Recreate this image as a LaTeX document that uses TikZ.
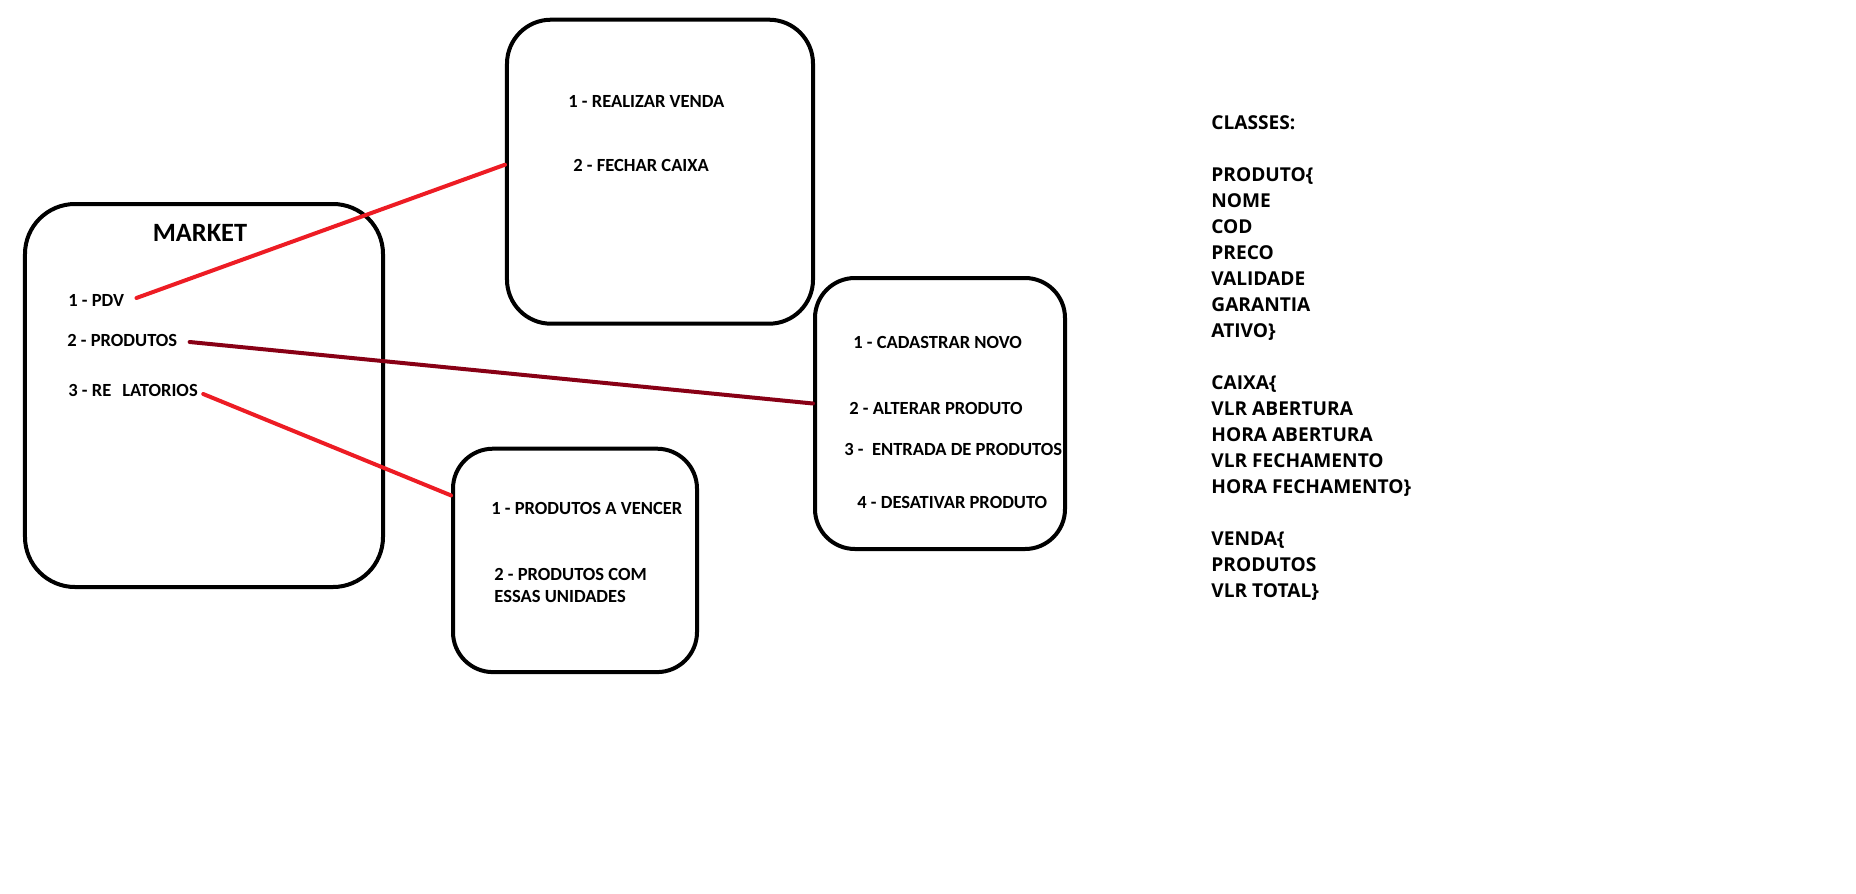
\documentclass[tikz,border=0pt]{standalone}
\usepackage{fontspec}
\setmainfont{Carlito}
\newfontfamily\classfont{Open Sans}
\definecolor{linkRed}{HTML}{ED1C24}
\definecolor{linkMaroon}{HTML}{880015}
\definecolor{inkBlack}{HTML}{000000}

\begin{document}
\begin{tikzpicture}[
  x=0.5bp, y=-0.5bp,
  panel/.style={rectangle, rounded corners=#1, draw=inkBlack, line width=2bp, inner sep=0pt},
  item/.style={anchor=base west, inner sep=0pt, text=inkBlack, font=\fontsize{9.3}{11}\selectfont\bfseries},
  link/.style={draw=#1, line width=2bp, line cap=round},
]
\useasboundingbox (0,0) rectangle (1856,894);

% menu boxes
\node[panel=25bp, minimum width=179bp, minimum height=191.5bp] at (204,395.5) (marketbox) {};
\node[panel=22bp, minimum width=153bp, minimum height=152bp]   at (660,171.7) (vendabox)  {};
\node[panel=20bp, minimum width=125bp, minimum height=135.5bp] at (940,413.5) (prodbox)   {};
\node[panel=20bp, minimum width=122bp, minimum height=111.7bp] at (575,560.4) (relbox)    {};

\node[anchor=base, inner sep=0pt, font=\fontsize{13.25}{16}\selectfont\bfseries] at (200,241.5) (market) {MARKET};
\node[item] at (68,306) (pdv)        {1 - PDV};
\node[item] at (67,346) (produtos)   {2 - PRODUTOS};
\node[item] at (68,396) (relatorios) {3 - RE\hspace{5.5pt}LATORIOS};

\node[item] at (568,107) (venda)  {1 - REALIZAR VENDA};
\node[item] at (573,171) (fechar) {2 - FECHAR CAIXA};

\node[item] at (853,348) (cadastrar) {1 - CADASTRAR NOVO};
\node[item] at (849,414) (alterar)   {2 - ALTERAR PRODUTO};
\node[item] at (844,455) (entrada)   {3 -\ \ ENTRADA DE PRODUTOS};
\node[item] at (857,508) (desativar) {4 - DESATIVAR PRODUTO};

\node[item] at (491,514) (vencer) {1 - PRODUTOS A VENCER};
\node[item, anchor=north west, align=left] at (494,568) (unidades) {2 - PRODUTOS COM\\ESSAS UNIDADES};

% class list
\node[anchor=north west, inner sep=0pt, align=left, text=inkBlack,
      font=\classfont\fontsize{9.6}{13.05}\selectfont\bfseries] at (1211,115) (classes)
  {CLASSES:\\[13.05bp]
   PRODUTO\{\\NOME\\COD\\PRECO\\VALIDADE\\GARANTIA\\ATIVO\}\\[13.05bp]
   CAIXA\{\\VLR ABERTURA\\HORA ABERTURA\\VLR FECHAMENTO\\HORA FECHAMENTO\}\\[13.05bp]
   VENDA\{\\PRODUTOS\\VLR TOTAL\}};

\draw[link=linkRed]    ([xshift=6bp,yshift=1bp]pdv.east)         -- ([yshift=3.5bp]vendabox.west);
\draw[link=linkMaroon] ([xshift=6bp,yshift=-1bp]produtos.east)   -- ([yshift=5bp]prodbox.west);
\draw[link=linkRed]    ([xshift=2.5bp,yshift=-2bp]relatorios.east) -- ([yshift=32.5bp]relbox.west);

\end{tikzpicture}
\end{document}
